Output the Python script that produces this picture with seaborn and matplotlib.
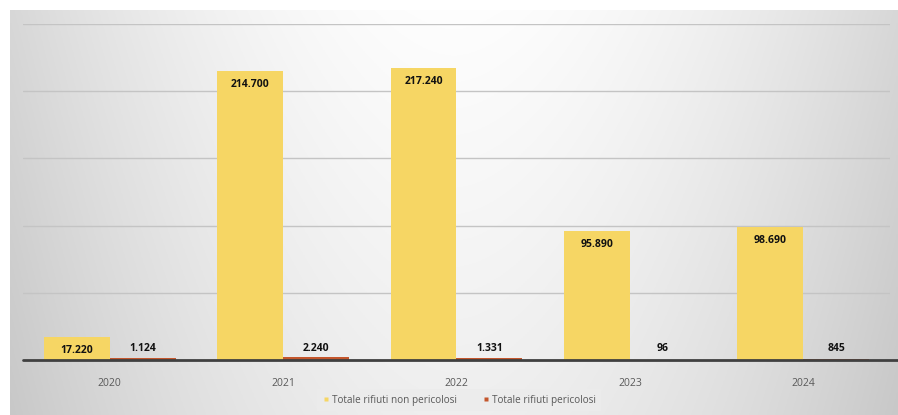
import numpy as np
import pandas as pd
import matplotlib
matplotlib.use("Agg")
import matplotlib.pyplot as plt
import seaborn as sns
from matplotlib.lines import Line2D

years = ["2020", "2021", "2022", "2023", "2024"]
non_pericolosi = [17220, 214700, 217240, 95890, 98690]
pericolosi = [1124, 2240, 1331, 96, 845]
series_names = ["Totale rifiuti non pericolosi", "Totale rifiuti pericolosi"]

def fmt(v):
    return f"{v:,}".replace(",", ".")

df = pd.DataFrame({
    "anno": years * 2,
    "valore": non_pericolosi + pericolosi,
    "serie": [series_names[0]] * len(years) + [series_names[1]] * len(years),
})

sns.set_theme(style="white")
plt.rcParams["font.family"] = ["Open Sans", "DejaVu Sans"]

W, H = 898, 415
fig = plt.figure(figsize=(W / 100, H / 100), dpi=100)
fig.patch.set_facecolor("white")

# gradient panel background
bg = fig.add_axes([10 / W, 0, 888 / W, 405 / H], zorder=-5)
xx = np.linspace(-1, 1, 400)
yy = np.linspace(0, 1, 200)
X, Y = np.meshgrid(xx, yy)
val = 0.995 - 0.15 * np.abs(X) ** 1.8 - 0.06 * Y
val = np.clip(val, 0.78, 1.0)
bg.imshow(np.dstack([val, val, val]), aspect="auto", extent=[0, 1, 1, 0])
bg.set_axis_off()

ax = fig.add_axes([23 / W, 55 / H, 867 / W, 336 / H])
ax.set_facecolor("none")
colors = ["#F6D664", "#C4562C"]
sns.barplot(data=df, x="anno", y="valore", hue="serie", palette=colors,
            width=0.76, gap=0, dodge=True, ax=ax, legend=False, saturation=1,
            edgecolor="none")
ax.set_ylim(0, 250000)
ax.set_xlim(-0.5, 4.5)
ax.set_yticks(np.arange(0, 250001, 50000))
ax.yaxis.grid(True, color="#c4c4c4", lw=1)
ax.set_axisbelow(True)
ax.set_yticklabels([])
ax.tick_params(axis="y", length=0)
ax.tick_params(axis="x", length=0, pad=13, labelsize=7.5, labelcolor="#595959")
ax.set_xlabel("")
ax.set_ylabel("")
for s in ["top", "right", "left", "bottom"]:
    ax.spines[s].set_visible(False)
# baseline running to the right edge of the panel
fig.add_artist(Line2D([23 / W, 1.0], [55 / H, 55 / H], color="#404040", lw=2))

off = 0.19
for i, (a, b) in enumerate(zip(non_pericolosi, pericolosi)):
    ax.annotate(fmt(a), (i - off, a), xytext=(0, -9.5), textcoords="offset points",
                ha="center", va="center", fontsize=7.5, fontweight="bold", color="#111111")
    ax.annotate(fmt(b), (i + off, 0), xytext=(0, 8), textcoords="offset points",
                ha="center", va="center", fontsize=7.5, fontweight="bold", color="#111111")

handles = [Line2D([], [], marker="s", color="none", markerfacecolor=c, markeredgecolor="none",
                  markersize=3.5) for c in colors]
leg = fig.legend(handles, series_names, loc="center", bbox_to_anchor=(459 / W, 15 / H),
                 ncol=2, frameon=True, fontsize=7.2, handlelength=0.6, handletextpad=0.3,
                 columnspacing=2.6, borderpad=0.55, borderaxespad=0)
leg.get_frame().set_facecolor("#ececec")
leg.get_frame().set_edgecolor("none")
leg.get_frame().set_alpha(0.8)
leg.get_frame().set_boxstyle("square", pad=0)
for t in leg.get_texts():
    t.set_color("#595959")

fig.savefig("out.png", dpi=100)
